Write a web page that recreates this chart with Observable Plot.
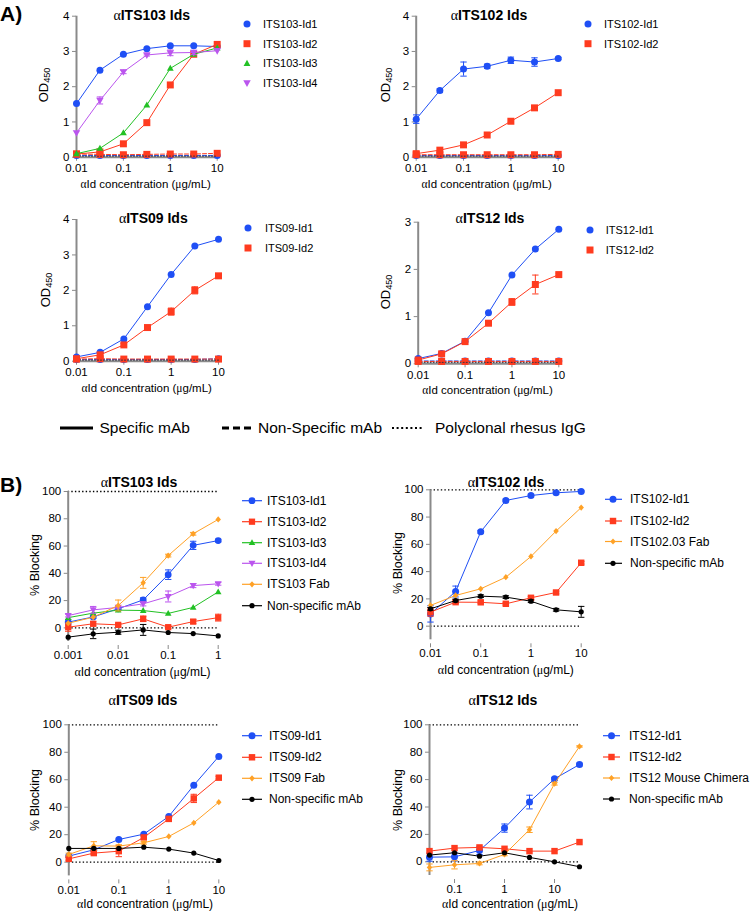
<!DOCTYPE html>
<html><head><meta charset="utf-8">
<script src="https://cdn.jsdelivr.net/npm/d3@7"></script>
<script src="https://cdn.jsdelivr.net/npm/@observablehq/plot@0.6"></script>
<style>
body{margin:0;background:#fff;font-family:"Liberation Sans",Arial,sans-serif;}
#root{position:relative;width:750px;height:912px;overflow:hidden;background:#fff;}
.pan{position:absolute;}
.pan svg text{fill:#000;}
.t{position:absolute;white-space:nowrap;color:#000;line-height:1;}
.g{font-family:"Liberation Serif","DejaVu Serif",serif;font-weight:normal;}
sub{font-size:0.7em;vertical-align:-0.3em;line-height:0;}
</style></head><body><div id="root"></div>
<script>
// ---------------- data ----------------
const xA = [0.01, 0.0316, 0.1, 0.316, 1, 3.16, 10];
const xB103 = [0.001, 0.00316, 0.01, 0.0316, 0.1, 0.316, 1];
const xB102 = [0.01, 0.0316, 0.1, 0.316, 1, 3.16, 10];
const xB09 = [0.01, 0.0316, 0.1, 0.316, 1, 3.16, 10];
const xB12 = [0.0316, 0.1, 0.316, 1, 3.16, 10, 31.6];

const ticksA = [0.01, 0.1, 1, 10];
const ticksB103 = [0.001, 0.01, 0.1, 1];
const ticksB12 = [0.1, 1, 10];
const ticksOD4 = [0, 1, 2, 3, 4];
const ticksOD3 = [0, 1, 2, 3];
const ticksBlock = [0, 20, 40, 60, 80, 100];

// Panel A: ELISA OD450
const a103Id1 = [1.52, 2.47, 2.92, 3.08, 3.16, 3.16, 3.14];
const a103Id2 = [0.09, 0.15, 0.38, 0.98, 2.05, 2.92, 3.20];
const a103Id3 = [0.10, 0.25, 0.69, 1.48, 2.52, 2.92, 3.10];
const a103Id4 = [0.69, 1.61, 2.42, 2.90, 2.96, 2.97, 3.02];
const a103Id4Err = [0, 0.10, 0.05, 0.03, 0.08, 0.06, 0];
const a103NegBlue = [0.05, 0.05, 0.05, 0.05, 0.05, 0.05, 0.05];
const a103NegRed = [0.09, 0.08, 0.07, 0.08, 0.09, 0.09, 0.11];

const a102Id1 = [1.08, 1.89, 2.50, 2.58, 2.75, 2.70, 2.80];
const a102Id1Err = [0.12, 0.05, 0.20, 0.06, 0.09, 0.12, 0.03];
const a102Id2 = [0.10, 0.20, 0.35, 0.63, 1.02, 1.40, 1.83];
const a102NegBlue = [0.05, 0.05, 0.05, 0.05, 0.05, 0.05, 0.05];
const a102NegRed = [0.07, 0.07, 0.07, 0.07, 0.07, 0.07, 0.08];

const a09Id1 = [0.12, 0.25, 0.63, 1.54, 2.45, 3.25, 3.44];
const a09Id2 = [0.07, 0.18, 0.46, 0.95, 1.40, 2.00, 2.41];
const a09Id2Err = [0, 0, 0.04, 0.03, 0.10, 0.10, 0.03];
const a09NegBlue = [0.05, 0.05, 0.05, 0.05, 0.05, 0.05, 0.07];
const a09NegRed = [0.06, 0.07, 0.06, 0.06, 0.06, 0.06, 0.06];

const a12Id1 = [0.11, 0.22, 0.48, 1.08, 1.88, 2.43, 2.85];
const a12Id2 = [0.08, 0.21, 0.47, 0.86, 1.31, 1.68, 1.89];
const a12Id2Err = [0, 0, 0, 0.03, 0.07, 0.20, 0.03];
const a12NegBlue = [0.06, 0.06, 0.06, 0.06, 0.06, 0.06, 0.06];
const a12NegRed = [0.05, 0.05, 0.05, 0.05, 0.05, 0.05, 0.05];

const polyclonal = [0.03, 0.03, 0.03, 0.03, 0.03, 0.03, 0.03];

// Panel B: % Blocking
const b103Id1 = [4.2, 8.0, 14.0, 20.5, 39.0, 60.5, 64.0];
const b103Id1Err = [2, 1, 1, 1.5, 3.5, 3, 1];
const b103Id2 = [0.5, 3.0, 2.2, 6.6, 0.5, 4.6, 7.5];
const b103Id2Err = [3, 1.5, 1, 2, 1, 1.5, 2.5];
const b103Id3 = [7.5, 10.8, 13.0, 12.7, 10.6, 15.0, 26.4];
const b103Id4 = [9.0, 13.2, 15.0, 17.6, 23.0, 31.0, 32.3];
const b103Id4Err = [1, 2.5, 1, 1.5, 4, 1.5, 1];
const b103Fab = [3.4, 7.8, 16.4, 33.0, 53.0, 69.0, 79.5];
const b103FabErr = [0, 0, 4, 4, 1, 1, 0];
const b103Ns = [-6.8, -4.4, -3.2, -1.5, -3.4, -4.2, -5.9];
const b103NsErr = [0, 3.5, 1.5, 4, 0, 0, 0];

const b102Id1 = [9.0, 25.4, 69.2, 92.2, 95.8, 97.8, 98.8];
const b102Id1Err = [6, 4, 1, 1, 1, 1, 0.5];
const b102Id2 = [10.3, 17.6, 17.5, 16.4, 20.8, 24.7, 46.5];
const b102Id2Err = [3, 1, 1, 1, 1, 1, 1];
const b102Fab = [15.2, 22.5, 27.4, 35.9, 51.1, 69.7, 87.0];
const b102Ns = [12.7, 18.8, 22.0, 21.3, 18.3, 12.0, 10.5];
const b102NsErr = [1, 1, 1, 1, 1, 1, 4];

const b09Id1 = [4.4, 9.0, 16.5, 20.4, 33.3, 56.0, 77.0];
const b09Id2 = [2.4, 6.6, 8.0, 18.0, 31.5, 46.4, 61.5];
const b09Id2Err = [1, 1, 4, 1, 1, 3, 1];
const b09Fab = [5.6, 11.9, 11.7, 14.1, 18.7, 28.6, 43.7];
const b09FabErr = [1, 3, 1, 1, 0, 0, 0];
const b09Ns = [10.0, 10.0, 10.0, 10.9, 9.5, 6.6, 1.2];

const b12Id1 = [3.4, 3.6, 8.3, 24.6, 43.6, 60.6, 71.0];
const b12Id1Err = [3, 3, 3, 3, 5, 1, 1];
const b12Id2 = [7.8, 10.0, 10.5, 9.5, 7.8, 7.8, 14.4];
const b12Chim = [-4.1, -2.2, -1.2, 5.4, 23.4, 57.0, 84.2];
const b12ChimErr = [2.5, 3, 1, 1, 2, 1, 0.5];
const b12Ns = [4.9, 6.6, 4.1, 6.6, 3.2, 0.0, -3.6];

// ---------------- styling ----------------
const BLUE = "#1f4ff5", RED = "#ff3b1f", GREEN = "#22c124", PURPLE = "#bb55ee", ORANGE = "#ffa126", BLACK = "#000000";
const AX = "#8a8a8a";
const FONT = '"Liberation Sans", Arial, sans-serif';

const rr = size => Math.sqrt(size / Math.PI);
const symCircle = {draw(c, s){ const r = rr(s); c.moveTo(r, 0); c.arc(0, 0, r, 0, 2 * Math.PI); }};
const symSquare = {draw(c, s){ const h = rr(s) * 0.92; c.rect(-h, -h, 2 * h, 2 * h); }};
const symTri = {draw(c, s){ const r = rr(s); c.moveTo(0, -1.15 * r); c.lineTo(1.1 * r, 0.8 * r); c.lineTo(-1.1 * r, 0.8 * r); c.closePath(); }};
const symTriDown = {draw(c, s){ const r = rr(s); c.moveTo(0, 1.15 * r); c.lineTo(1.1 * r, -0.8 * r); c.lineTo(-1.1 * r, -0.8 * r); c.closePath(); }};
const symDiamond = {draw(c, s){ const r = rr(s); c.moveTo(0, -1.2 * r); c.lineTo(1.05 * r, 0); c.lineTo(0, 1.2 * r); c.lineTo(-1.05 * r, 0); c.closePath(); }};
const symCap = {draw(c, s){ const r = rr(s); c.moveTo(-r, 0); c.lineTo(r, 0); }};

const root = document.getElementById("root");

function S(label, x, y, color, sym, r, opts = {}) {
  return Object.assign({label, x, y, color, sym, r, e: null, dash: null, legend: true, lw: 1}, opts);
}

function panel(cfg) {
  const marks = [];
  const [x0, x1] = cfg.xDomain, [y0, y1] = cfg.yDomain;
  if (cfg.refs) {
    marks.push(Plot.ruleY([0, 100], {x1: x0, x2: x1, stroke: BLACK, strokeWidth: 1.3, strokeDasharray: "1.4,2.2"}));
  } else {
    marks.push(Plot.ruleY([y0], {x1: x0, x2: x1, stroke: AX, strokeWidth: 2}));
  }
  marks.push(Plot.ruleX([x0], {y1: y0, y2: y1, stroke: AX, strokeWidth: 2}));
  for (const s of cfg.series) {
    const data = s.x.map((x, i) => ({x, y: s.y[i], e: s.e ? s.e[i] : 0}));
    marks.push(Plot.line(data, {x: "x", y: "y", stroke: s.color, strokeWidth: s.lw, strokeDasharray: s.dash || undefined}));
    const ed = data.filter(d => d.e > 0);
    if (ed.length) {
      marks.push(Plot.ruleX(ed, {x: "x", y1: d => d.y - d.e, y2: d => d.y + d.e, stroke: s.color, strokeWidth: 1}));
      marks.push(Plot.dot(ed, {x: "x", y: d => d.y - d.e, symbol: symCap, r: 3.2, fill: "none", stroke: s.color, strokeWidth: 1}));
      marks.push(Plot.dot(ed, {x: "x", y: d => d.y + d.e, symbol: symCap, r: 3.2, fill: "none", stroke: s.color, strokeWidth: 1}));
    }
    if (s.sym) marks.push(Plot.dot(data, {x: "x", y: "y", symbol: s.sym, r: s.r, fill: s.color, stroke: "none"}));
  }
  const svg = Plot.plot({
    width: cfg.width, height: cfg.height,
    marginLeft: cfg.mL, marginRight: cfg.mR, marginTop: cfg.mT, marginBottom: cfg.mB,
    insetBottom: cfg.inset || 0,
    style: {color: AX, fontSize: cfg.fs + "px", fontFamily: FONT, background: "transparent", overflow: "visible"},
    x: {type: "log", domain: cfg.xDomain, ticks: cfg.xTicks, tickFormat: d => String(d), tickSize: 4, tickPadding: cfg.xPad, label: null},
    y: {domain: cfg.yDomain, ticks: cfg.yTicks, tickFormat: d => String(d), tickSize: 4, tickPadding: 3, label: null},
    marks
  });
  const div = document.createElement("div");
  div.className = "pan";
  div.style.left = cfg.left + "px";
  div.style.top = cfg.top + "px";
  div.appendChild(svg);
  root.appendChild(div);
}

function text(html, x, y, opts = {}) {
  const d = document.createElement("div");
  d.className = "t";
  d.innerHTML = html;
  d.style.left = x + "px";
  d.style.top = y + "px";
  d.style.fontSize = (opts.fs || 12) + "px";
  if (opts.bold) d.style.fontWeight = "bold";
  const ax = opts.align === "left" ? "0" : "-50%";
  d.style.transform = `translate(${ax},-50%)`;
  if (opts.rot) {
    d.style.transform = "translate(-50%,-50%) rotate(-90deg)";
    d.style.transformOrigin = "50% 50%";
  }
  root.appendChild(d);
  return d;
}

// overlay svg for legend symbols
const ov = d3.select(root).append("svg").attr("width", 750).attr("height", 912)
  .style("position", "absolute").style("left", 0).style("top", 0).style("pointer-events", "none");

function legend(series, cfg) {
  const items = series.filter(s => s.legend);
  items.forEach((s, i) => {
    const y = cfg.rows[i];
    if (cfg.line) ov.append("line").attr("x1", cfg.line[0]).attr("x2", cfg.line[1]).attr("y1", y).attr("y2", y)
      .attr("stroke", s.color).attr("stroke-width", 1.2);
    const p = d3.path(); s.sym.draw(p, s.r * s.r * Math.PI);
    ov.append("path").attr("d", p.toString()).attr("transform", `translate(${cfg.sx},${y})`).attr("fill", s.color);
    text(s.label, cfg.tx, y, {fs: cfg.fs, align: "left"});
  });
}

const XLAB = '<span class="g">α</span>Id concentration (<span class="g">μ</span>g/mL)';
const ttl = name => `<span class="g">α</span>${name} Ids`;

// ---------------- Panel A ----------------
const negs = (blue, red) => [
  S("neg blue", xA, blue, BLUE, symCircle, 3.5, {dash: "4,2", legend: false}),
  S("neg red", xA, red, RED, symSquare, 3.8, {dash: "4,2", legend: false}),
  S("poly", xA, polyclonal, "#334", null, 0, {dash: "1,2", legend: false})
];

const sA1 = [
  ...negs(a103NegBlue, a103NegRed),
  S("ITS103-Id1", xA, a103Id1, BLUE, symCircle, 3.5),
  S("ITS103-Id2", xA, a103Id2, RED, symSquare, 3.8),
  S("ITS103-Id3", xA, a103Id3, GREEN, symTri, 3.1),
  S("ITS103-Id4", xA, a103Id4, PURPLE, symTriDown, 3.4, {e: a103Id4Err})
];
const sA2 = [
  ...negs(a102NegBlue, a102NegRed),
  S("ITS102-Id1", xA, a102Id1, BLUE, symCircle, 3.5, {e: a102Id1Err}),
  S("ITS102-Id2", xA, a102Id2, RED, symSquare, 3.8)
];
const sA3 = [
  ...negs(a09NegBlue, a09NegRed),
  S("ITS09-Id1", xA, a09Id1, BLUE, symCircle, 3.5),
  S("ITS09-Id2", xA, a09Id2, RED, symSquare, 3.8, {e: a09Id2Err})
];
const sA4 = [
  ...negs(a12NegBlue, a12NegRed),
  S("ITS12-Id1", xA, a12Id1, BLUE, symCircle, 3.5),
  S("ITS12-Id2", xA, a12Id2, RED, symSquare, 3.8, {e: a12Id2Err})
];

panel({left: 0, top: 0, width: 240, height: 200, mL: 76, mR: 23.3, mT: 15.7, mB: 43.3, fs: 11.5, xPad: 3,
  xDomain: [0.01, 10], xTicks: ticksA, yDomain: [0, 4], yTicks: ticksOD4, series: sA1});
panel({left: 375, top: 0, width: 200, height: 200, mL: 40.7, mR: 17.3, mT: 15.7, mB: 43.3, fs: 11.5, xPad: 3,
  xDomain: [0.01, 10], xTicks: ticksA, yDomain: [0, 4], yTicks: ticksOD4, series: sA2});
panel({left: 0, top: 205, width: 240, height: 200, mL: 76, mR: 22, mT: 14, mB: 44.3, fs: 11.5, xPad: 3,
  xDomain: [0.01, 10], xTicks: ticksA, yDomain: [0, 4], yTicks: ticksOD4, series: sA3});
panel({left: 375, top: 205, width: 200, height: 200, mL: 42.7, mR: 16.7, mT: 16.7, mB: 41.7, fs: 11.5, xPad: 3,
  xDomain: [0.01, 10], xTicks: ticksA, yDomain: [0, 3], yTicks: ticksOD3, series: sA4});

legend(sA1, {sx: 247, tx: 263, rows: [24, 43.7, 63.4, 83], fs: 11});
legend(sA2, {sx: 588, tx: 604, rows: [24, 43.7], fs: 11});
legend(sA3, {sx: 248, tx: 265, rows: [228, 248], fs: 11});
legend(sA4, {sx: 590, tx: 605.7, rows: [230, 250], fs: 11});

text(ttl("ITS103"), 151.7, 14.5, {fs: 14, bold: true});
text(ttl("ITS102"), 489, 14.5, {fs: 14, bold: true});
text(ttl("ITS09"), 153.3, 217.5, {fs: 14, bold: true});
text(ttl("ITS12"), 490, 217.5, {fs: 14, bold: true});

const OD = "OD<sub>450</sub>";
text(OD, 43, 85, {fs: 13, rot: true});
text(OD, 385, 85, {fs: 13, rot: true});
text(OD, 45, 290, {fs: 13, rot: true});
text(OD, 385, 291.7, {fs: 13, rot: true});

text(XLAB, 145.7, 185, {fs: 11.5});
text(XLAB, 486.7, 185, {fs: 11.5});
text(XLAB, 146.7, 389, {fs: 11.5});
text(XLAB, 487.5, 390.5, {fs: 11.5});

text("A)", 0, 13, {fs: 21, bold: true, align: "left"});

// middle line-style legend
ov.append("line").attr("x1", 60).attr("x2", 93).attr("y1", 428).attr("y2", 428).attr("stroke", "#000").attr("stroke-width", 3);
ov.append("line").attr("x1", 222).attr("x2", 251).attr("y1", 428).attr("y2", 428).attr("stroke", "#000").attr("stroke-width", 3).attr("stroke-dasharray", "7,4");
ov.append("line").attr("x1", 392).attr("x2", 423).attr("y1", 428).attr("y2", 428).attr("stroke", "#000").attr("stroke-width", 2.2).attr("stroke-dasharray", "2,2.6");
text("Specific mAb", 99.5, 428, {fs: 15.5, align: "left"});
text("Non-Specific mAb", 258, 428, {fs: 15.5, align: "left"});
text("Polyclonal rhesus IgG", 435, 428, {fs: 15.5, align: "left"});

// ---------------- Panel B ----------------
const sB1 = [
  S("ITS103-Id1", xB103, b103Id1, BLUE, symCircle, 3.4, {e: b103Id1Err}),
  S("ITS103-Id2", xB103, b103Id2, RED, symSquare, 3.4, {e: b103Id2Err}),
  S("ITS103-Id3", xB103, b103Id3, GREEN, symTri, 3.0),
  S("ITS103-Id4", xB103, b103Id4, PURPLE, symTriDown, 3.2, {e: b103Id4Err}),
  S("ITS103 Fab", xB103, b103Fab, ORANGE, symDiamond, 2.6, {e: b103FabErr}),
  S("Non-specific mAb", xB103, b103Ns, BLACK, symCircle, 2.6, {e: b103NsErr})
];
const sB2 = [
  S("ITS102-Id1", xB102, b102Id1, BLUE, symCircle, 3.5, {e: b102Id1Err}),
  S("ITS102-Id2", xB102, b102Id2, RED, symSquare, 3.5, {e: b102Id2Err}),
  S("ITS102.03 Fab", xB102, b102Fab, ORANGE, symDiamond, 2.6),
  S("Non-specific mAb", xB102, b102Ns, BLACK, symCircle, 2.6, {e: b102NsErr})
];
const sB3 = [
  S("ITS09-Id1", xB09, b09Id1, BLUE, symCircle, 3.5),
  S("ITS09-Id2", xB09, b09Id2, RED, symSquare, 3.5, {e: b09Id2Err}),
  S("ITS09 Fab", xB09, b09Fab, ORANGE, symDiamond, 2.6, {e: b09FabErr}),
  S("Non-specific mAb", xB09, b09Ns, BLACK, symCircle, 2.6)
];
const sB4 = [
  S("ITS12-Id1", xB12, b12Id1, BLUE, symCircle, 3.5, {e: b12Id1Err}),
  S("ITS12-Id2", xB12, b12Id2, RED, symSquare, 3.5),
  S("ITS12 Mouse Chimera", xB12, b12Chim, ORANGE, symDiamond, 2.6, {e: b12ChimErr}),
  S("Non-specific mAb", xB12, b12Ns, BLACK, symCircle, 2.6)
];

panel({left: 0, top: 480, width: 240, height: 190, mL: 67.7, mR: 22.3, mT: 11, mB: 25, inset: 4, fs: 11.5, xPad: 1.5, refs: true,
  xDomain: [0.001, 1], xTicks: ticksB103, yDomain: [-10, 100], yTicks: ticksBlock, series: sB1});
panel({left: 375, top: 480, width: 220, height: 190, mL: 55, mR: 14.3, mT: 9.3, mB: 26.7, inset: 4, fs: 11.5, xPad: 1.5, refs: true,
  xDomain: [0.01, 10], xTicks: ticksA, yDomain: [-10, 100], yTicks: ticksBlock, series: sB2});
panel({left: 0, top: 715, width: 240, height: 190, mL: 68.3, mR: 21.7, mT: 9.3, mB: 25.6, inset: 4, fs: 11.5, xPad: 1.5, refs: true,
  xDomain: [0.01, 10], xTicks: ticksA, yDomain: [-10, 100], yTicks: ticksBlock, series: sB3});
panel({left: 375, top: 715, width: 220, height: 190, mL: 54, mR: 16, mT: 9.3, mB: 26, inset: 4, fs: 11.5, xPad: 1.5, refs: true,
  xDomain: [0.0316, 31.6], xTicks: ticksB12, yDomain: [-10, 100], yTicks: ticksBlock, series: sB4});

legend(sB1, {line: [242, 262], sx: 252, tx: 267, rows: [500.7, 521.7, 542.7, 563.3, 584.3, 605.7], fs: 12});
legend(sB2, {line: [605, 622], sx: 613, tx: 630, rows: [499.3, 521, 541.5, 563.3], fs: 12});
legend(sB3, {line: [242, 262], sx: 252, tx: 269, rows: [735.7, 757.3, 778.3, 799.3], fs: 12});
legend(sB4, {line: [603, 620], sx: 611.5, tx: 629, rows: [735.7, 757, 778, 799], fs: 12});

text(ttl("ITS103"), 139, 482, {fs: 14, bold: true});
text(ttl("ITS102"), 506, 482, {fs: 14, bold: true});
text(ttl("ITS09"), 143, 700, {fs: 14, bold: true});
text(ttl("ITS12"), 503, 700, {fs: 14, bold: true});

text("% Blocking", 35, 565, {fs: 12.5, rot: true});
text("% Blocking", 398, 563, {fs: 12.5, rot: true});
text("% Blocking", 35, 800, {fs: 12.5, rot: true});
text("% Blocking", 397.7, 800, {fs: 12.5, rot: true});

text(XLAB, 142.5, 671.5, {fs: 12});
text(XLAB, 505.8, 670, {fs: 12});
text(XLAB, 145, 903.5, {fs: 12});
text(XLAB, 510, 903.5, {fs: 12});

text("B)", 0, 484, {fs: 21, bold: true, align: "left"});
</script></body></html>
